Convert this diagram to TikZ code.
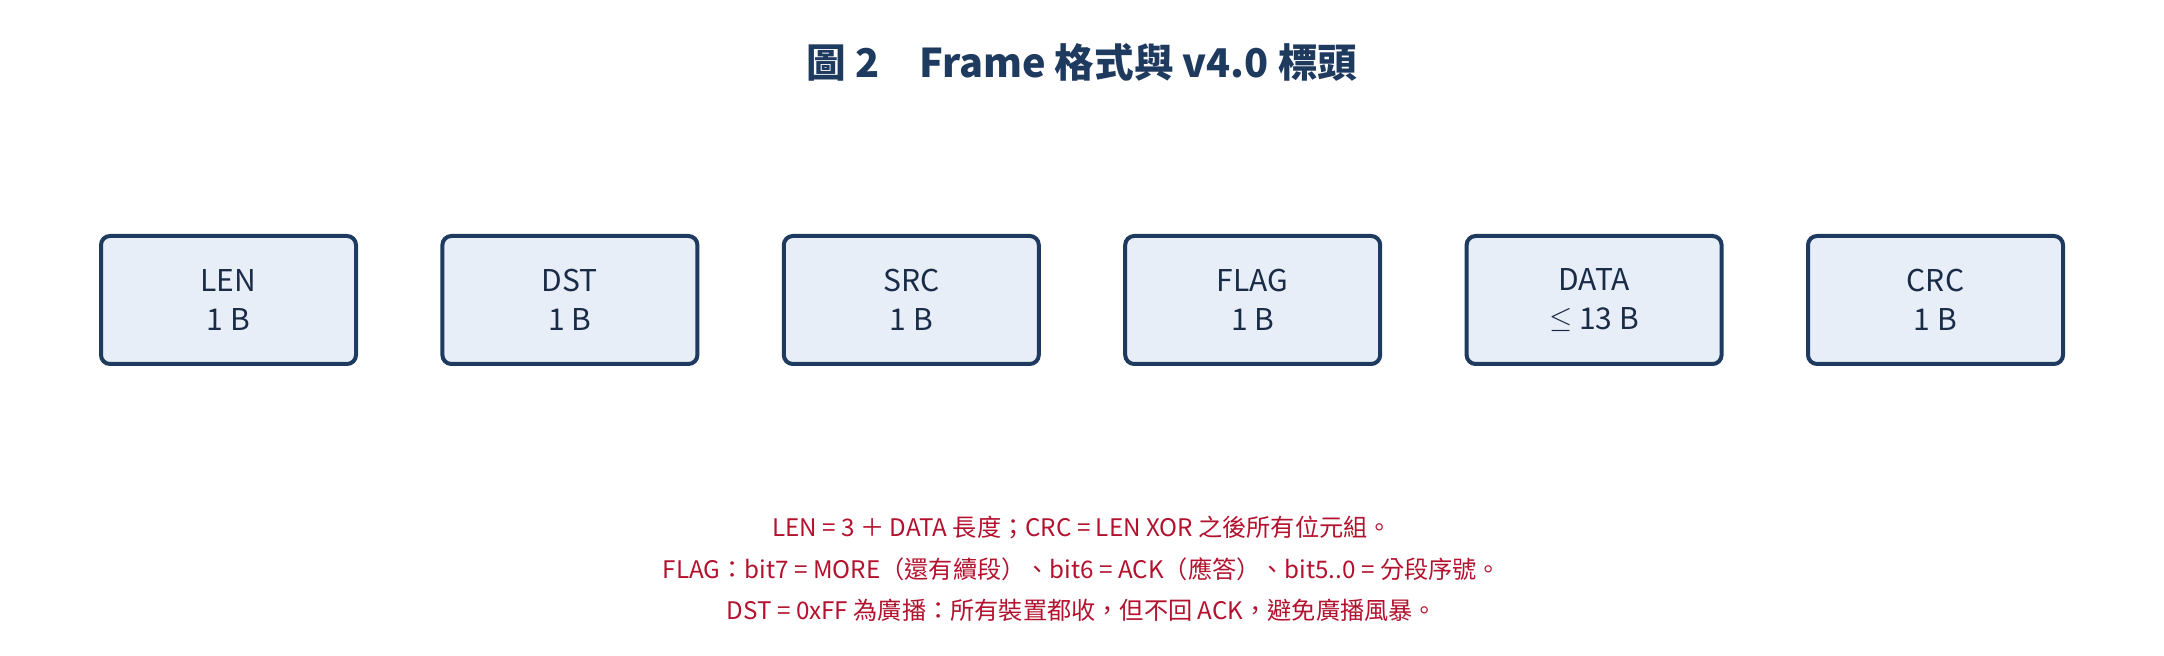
\documentclass[tikz,border=0pt]{standalone}
\usepackage{fontspec}
\setmainfont{Noto Sans CJK TC}
\definecolor{navy}{HTML}{1F3A5F}
\definecolor{boxfill}{HTML}{E7EEF8}
\definecolor{boxtext}{HTML}{1A2B47}
\definecolor{noteRed}{HTML}{B3122E}

\begin{document}
\begin{tikzpicture}[x=1pt,y=1pt,
  field/.style={draw=navy,fill=boxfill,line width=4pt,rounded corners=9pt,
    minimum width=255pt,minimum height=128pt,align=center,text=boxtext,
    font=\fontsize{30}{39}\selectfont}]

\useasboundingbox (0,0) rectangle (2164,656);

\node[font=\fontsize{39.6}{48}\selectfont\bfseries,text=navy] (title) at (1082,594)
  {圖 2\quad Frame 格式與 v4.0 標頭};

% the six fields of a frame
\foreach \name/\lbl/\size [count=\i] in {len/LEN/1 B,dst/DST/1 B,src/SRC/1 B,
    flag/FLAG/1 B,data/DATA/\raisebox{2pt}{\scalebox{1.2}{$\leq$}} 13 B,crc/CRC/1 B}
  {\node[field] (\name) at ({228.5+341.4*(\i-1)},356) {\lbl\\\size};}

\node[align=center,text=noteRed,font=\fontsize{24.2}{41.5}\selectfont] (notes) at (1082,87)
  {LEN = 3 ＋ DATA 長度；CRC = LEN XOR 之後所有位元組。\\
   FLAG：bit7 = MORE（還有續段）、bit6 = ACK（應答）、bit5..0 = 分段序號。\\
   DST = 0xFF 為廣播：所有裝置都收，但不回 ACK，避免廣播風暴。};
\end{tikzpicture}
\end{document}
